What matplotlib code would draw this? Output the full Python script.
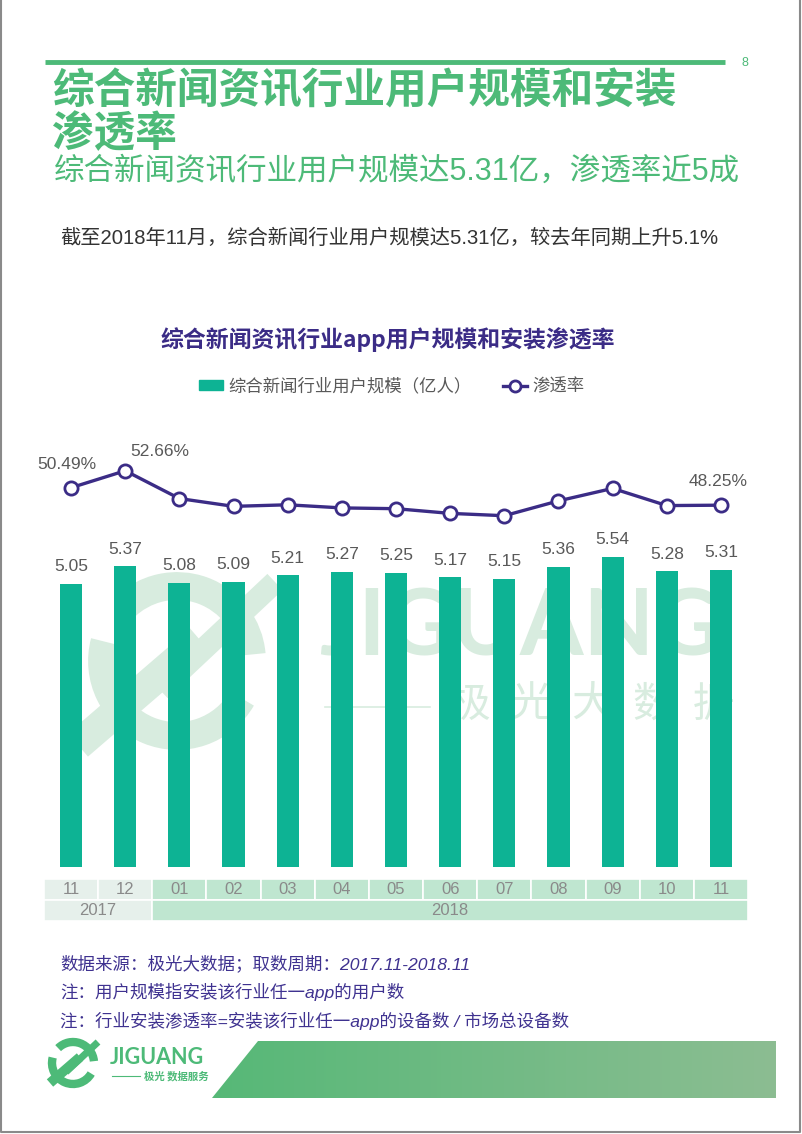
import numpy as np
import matplotlib
matplotlib.use('Agg')
import matplotlib.pyplot as plt
from matplotlib.patches import Rectangle, Polygon, Arc
from matplotlib.lines import Line2D
from matplotlib.colors import LinearSegmentedColormap

plt.rcParams['font.family'] = ['Liberation Sans', 'Noto Sans CJK SC', 'DejaVu Sans']

# data
months = ['11', '12', '01', '02', '03', '04', '05', '06', '07', '08', '09', '10', '11']
years = ['2017', '2018']
year_span = [2, 11]
users = [5.05, 5.37, 5.08, 5.09, 5.21, 5.27, 5.25, 5.17, 5.15, 5.36, 5.54, 5.28, 5.31]
penetration = [50.49, 52.66, 49.1, 48.1, 48.3, 47.9, 47.8, 47.2, 46.9, 48.8, 50.4, 48.2, 48.25]
pen_labels = {0: '50.49%', 1: '52.66%', 12: '48.25%'}

GREEN = '#4dba78'
BAR = '#0db394'
PURPLE = '#3b2c86'
GREY = '#595959'

W, H = 802, 1134
fig = plt.figure(figsize=(W / 100, H / 100), dpi=100)

# background axes in pixel coords for page decoration
bg = fig.add_axes([0, 0, 1, 1])
bg.set_xlim(0, W)
bg.set_ylim(H, 0)
bg.axis('off')

# page border
bg.plot([1, 1, W - 2, W - 2], [0, H - 2, H - 2, 0], color='#8a8a8a', lw=1.5)

# header
bg.plot([45, 725], [62, 62], color=GREEN, lw=3.5, solid_capstyle='butt')
bg.text(745, 63, '8', color=GREEN, fontsize=9, ha='center', va='center')
bg.text(52, 92, '综合新闻资讯行业用户规模和安装', color=GREEN, fontsize=30,
        fontweight='bold', family=['Noto Sans CJK SC'], va='center', ha='left')
bg.text(52, 134, '渗透率', color=GREEN, fontsize=30,
        fontweight='bold', family=['Noto Sans CJK SC'], va='center', ha='left')
bg.text(54, 172, '综合新闻资讯行业用户规模达5.31亿，渗透率近5成', color=GREEN,
        fontsize=22, va='center', ha='left')
bg.text(60, 238, '截至2018年11月，综合新闻行业用户规模达5.31亿，较去年同期上升5.1%',
        color='#333333', fontsize=14.6, va='center', ha='left')

# chart title
bg.text(388, 340, '综合新闻资讯行业app用户规模和安装渗透率', color=PURPLE,
        fontsize=16.5, fontweight='bold', family=['Noto Sans CJK SC'],
        ha='center', va='center')

# watermark
wm = '#d8ecdf'
bg.add_patch(Arc((177, 661), 150, 150, theta1=30, theta2=195, lw=20, color=wm, zorder=0))
bg.add_patch(Arc((177, 661), 150, 150, theta1=225, theta2=355, lw=20, color=wm, zorder=0))
bg.plot([78, 200], [745, 640], color=wm, lw=22, solid_capstyle='butt', zorder=0)
bg.plot([160, 275], [690, 582], color=wm, lw=16, solid_capstyle='butt', zorder=0)
bg.text(520, 630, 'JIGUANG', color=wm, fontsize=66, fontweight='bold',
        family=['Lato', 'DejaVu Sans'], ha='center', va='center', zorder=0)
bg.plot([325, 430], [707, 707], color=wm, lw=1.2, zorder=0)
for i, ch in enumerate('极光大数据'):
    bg.text(470 + i * 61, 705, ch, color=wm, fontsize=30, family=['Noto Sans CJK SC'],
            ha='center', va='center', zorder=0)

# footnotes
notes = ['数据来源：极光大数据；取数周期：2017.11-2018.11',
         '注：用户规模指安装该行业任一app的用户数',
         '注：行业安装渗透率=安装该行业任一app的设备数 / 市场总设备数']
for i, t in enumerate(notes):
    bg.text(60, 963 + i * 29, t, color='#3f3290', fontsize=12.6, style='italic',
            ha='left', va='center')

# footer gradient band
grad = np.linspace(0, 1, 256).reshape(1, -1)
cmap = LinearSegmentedColormap.from_list('band', ['#56b877', '#8cbd92'])
im = bg.imshow(grad, cmap=cmap, extent=[210, 776, 1098, 1041], aspect='auto', zorder=1)
band = Polygon([(212, 1098), (258, 1041), (776, 1041), (776, 1098)], closed=True,
               transform=bg.transData, facecolor='none', edgecolor='none')
bg.add_patch(band)
im.set_clip_path(band)
bg.set_xlim(0, W)
bg.set_ylim(H, 0)

# footer logo
bg.add_patch(Arc((73, 1063), 42, 42, theta1=30, theta2=195, lw=6, color=GREEN))
bg.add_patch(Arc((73, 1063), 42, 42, theta1=225, theta2=355, lw=6, color=GREEN))
bg.plot([50, 80], [1083, 1057], color=GREEN, lw=7, solid_capstyle='butt')
bg.plot([66, 98], [1072, 1042], color=GREEN, lw=5, solid_capstyle='butt')
bg.text(110, 1057, 'JIGUANG', color=GREEN, fontsize=15.5, fontweight='bold',
        family=['Lato', 'DejaVu Sans'], ha='left', va='center')
bg.plot([112, 140], [1076, 1076], color=GREEN, lw=0.8)
bg.text(144, 1076, '极光 数据服务', color=GREEN, fontsize=7.5, fontweight='bold',
        family=['Noto Sans CJK SC'], ha='left', va='center')

# main chart
x0, x1, ybase, ytop = 44, 748, 867, 440
ax = fig.add_axes([x0 / W, 1 - ybase / H, (x1 - x0) / W, (ybase - ytop) / H])
ax.patch.set_alpha(0)
x = np.arange(len(months)) + 0.5
ax.bar(x, users, width=0.41, color=BAR, zorder=2)
ax.set_xlim(0, len(months))
ax.set_ylim(0, 7.625)
ax.axis('off')
for xi, v in zip(x, users):
    ax.annotate(f'{v:.2f}', (xi, v), xytext=(0, 7), textcoords='offset points',
                ha='center', va='bottom', fontsize=12.5, color=GREY)

ax2 = ax.twinx()
ax2.set_ylim(1.9, 56.6)
ax2.axis('off')
ax2.plot(x, penetration, color=PURPLE, lw=2.4, marker='o', markersize=9.5,
         markerfacecolor='white', markeredgecolor=PURPLE, markeredgewidth=2, zorder=3)
offsets = {0: (-3, 17), 1: (25, 14), 12: (-2, 17)}
for i, lab in pen_labels.items():
    ax2.annotate(lab, (x[i], penetration[i]), xytext=offsets[i], textcoords='offset points',
                 ha='center', va='center', fontsize=12.5, color=GREY)

# legend
handles = [Rectangle((0, 0), 1, 1, color=BAR),
           Line2D([], [], color=PURPLE, lw=2.4, marker='o', markersize=8,
                  markerfacecolor='white', markeredgecolor=PURPLE, markeredgewidth=2)]
fig.legend(handles, ['综合新闻行业用户规模（亿人）', '渗透率'], loc='center',
           bbox_to_anchor=(392 / W, 1 - 386 / H), ncol=2, frameon=False,
           fontsize=12.5, labelcolor=GREY, handlelength=1.4, handleheight=0.5,
           handletextpad=0.3, columnspacing=1.8)

# month / year table
tab = fig.add_axes([x0 / W, 1 - 921 / H, (x1 - x0) / W, 42 / H])
tab.set_xlim(0, len(months))
tab.set_ylim(0, 2)
tab.axis('off')
cols = ['#e6f0eb'] * year_span[0] + ['#bfe6d0'] * year_span[1]
for i, m in enumerate(months):
    tab.add_patch(Rectangle((i, 1), 1, 1, facecolor=cols[i], edgecolor='white', lw=1.2))
    tab.text(i + 0.5, 1.5, m, ha='center', va='center', fontsize=12, color='#8a8a8a')
start = 0
for yr, span in zip(years, year_span):
    tab.add_patch(Rectangle((start, 0), span, 1, facecolor=cols[start], edgecolor='white', lw=1.2))
    tab.text(start + span / 2, 0.5, yr, ha='center', va='center', fontsize=12, color='#8a8a8a')
    start += span

fig.savefig('out.png', dpi=100)
